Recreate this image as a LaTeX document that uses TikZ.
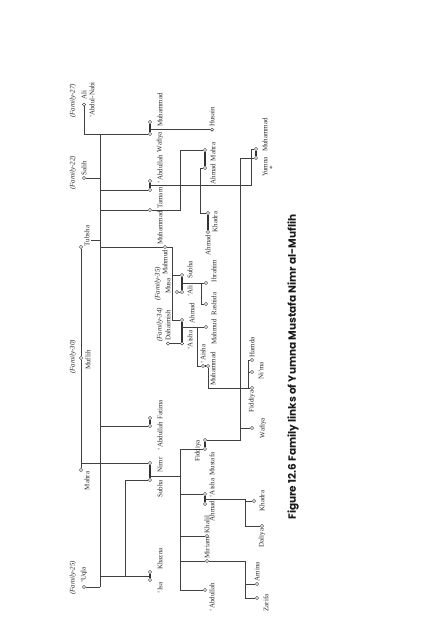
\documentclass[tikz,border=0pt]{standalone}
\usepackage{fontspec}
\setmainfont{Liberation Serif}
\newfontfamily\capfont{Poppins}
\pgfdeclarelayer{bg}
\pgfsetlayers{bg,main}
\begin{document}
\begin{tikzpicture}[x=1pt,y=-1pt,
  nm/.style={rotate=90, font=\fontsize{7}{8}\selectfont, inner sep=0pt, text=black!85},
  fam/.style={rotate=90, font=\fontsize{7}{8}\selectfont\itshape, inner sep=0pt, text=black!85},
  p/.style={circle, draw=black!85, fill=white, line width=0.45pt, minimum size=3.2pt, inner sep=0pt},
  ln/.style={draw=black!75, line width=0.5pt},
  mar/.style={draw=black!80, line width=1.1pt}]
\path[use as bounding box] (0,0) rectangle (427,640);
% ---------- generation 0
\node[fam] (f27) at (73,101) {(Family-27)};
\node[nm] (nAli) at (84,95) {Ali};
\node[p] (cAli) at (84,104.5) {};
\node[nm] (nAbN) at (92,100) {`Abdul-Nabi};
\node[fam] (f22) at (73,173) {(Family-22)};
\node[nm] (nSal) at (84,168) {Salih};
\node[p] (cSal) at (84,178) {};
\node[p] (cTub) at (81,247) {};
\node[nm] (nTub) at (87,236) {Tubsha};
\node[fam] (f30) at (73,357) {(Family-30)};
\node[p] (cMuf) at (81,358) {};
\node[nm] (nMuf) at (88,360) {Muflih};
\node[p] (cMah0) at (81,470) {};
\node[nm] (nMah0) at (87,481) {Mahra};
\node[fam] (f25) at (73,578) {(Family-25)};
\node[nm] (nUq) at (84,575) {`Uqla};
\node[p] (cUq) at (84,587) {};
% ---------- generation 1
\node[p] (cMuh1) at (150,122) {};
\node[nm] (nMuh1) at (160,110) {Muhammad};
\node[p] (cWaf) at (150,134) {};
\node[nm] (nWaf) at (160,142) {Wafiya};
\node[p] (cAbd1) at (150,181) {};
\node[nm] (nAbd1) at (160,169) {`Abdullah};
\node[p] (cTam) at (150,190) {};
\node[nm] (nTam) at (160,198) {Tamam};
\node[p] (cMuh2) at (150,210) {};
\node[nm] (nMuh2) at (160,228) {Muhammad};
\node[p] (cMahm) at (165,247) {};
\node[nm, anchor=east] (nMahm) at (165,249.5) {Mahmud};
\node[fam] (f35) at (158,284) {(Family-35)};
\node[nm] (nMusa) at (168,286) {Musa};
\node[p] (cMusa) at (177,292) {};
\node[fam] (f34) at (160,325) {(Family-34)};
\node[nm] (nDah) at (168,325) {Dahaimish};
\node[p] (cDah) at (168,343.5) {};
\node[p] (cFat) at (150,418) {};
\node[nm] (nFat) at (160,410) {Fatima};
\node[p] (cAbd1b) at (150,426) {};
\node[nm] (nAbd1b) at (160,436) {`Abdullah};
\node[p] (cNimr) at (150,463) {};
\node[nm] (nNimr) at (160,465) {Nimr};
\node[p] (cSub) at (150,480) {};
\node[nm] (nSub) at (160,489) {Subha};
\node[p] (cKhaz) at (150,572) {};
\node[nm] (nKhaz) at (160,559) {Khazna};
\node[p] (cIsa) at (150,580) {};
\node[nm] (nIsa) at (160,588) {`Isa};
% ---------- generation 2
\node[p] (cHus) at (212,129.7) {};
\node[nm, anchor=west] (nHus) at (212,127) {Husain};
\node[p] (cMah2) at (205,150) {};
\node[nm] (nMah2) at (213,152) {Mahra};
\node[p] (cAhm3) at (205,168) {};
\node[nm] (nAhm3) at (213,174) {Ahmad};
\node[p] (cKhad2) at (208,213) {};
\node[nm] (nKhad2) at (215,222) {Khadra};
\node[p] (cAhm4) at (208,232) {};
\node[nm, anchor=east] (nAhm4) at (208,234.5) {Ahmad};
\node[p] (cSub2) at (182,275) {};
\node[nm] (nSub2) at (190,270) {Subha};
\node[p] (cAli2) at (182,292) {};
\node[nm] (nAli2) at (190,291) {`Ali};
\node[p] (cAhm5) at (182,320) {};
\node[nm] (nAhm5) at (192,313) {Ahmad};
\node[p] (cAis5) at (182,343.5) {};
\node[nm] (nAis5) at (190,340) {`Aisha};
\node[p] (cIbr) at (206,283) {};
\node[nm] (nIbr) at (214,271) {Ibrahim};
\node[p] (cRash) at (206,304) {};
\node[nm] (nRash) at (214,304) {Rashida};
\node[p] (cMahm3) at (206,327) {};
\node[nm] (nMahm3) at (214,332) {Mahmud};
\node[p] (cAis6) at (203,366) {};
\node[nm, anchor=west] (nAis6) at (203,363.5) {`Aisha};
\node[p] (cMuh6) at (208,366) {};
\node[nm] (nMuh6) at (213,369) {Muhammad};
\node[p] (cFid2) at (205,440) {};
\node[nm] (nFid2) at (198,451) {Fiddiya};
\node[p] (cMust) at (205,449) {};
\node[nm] (nMust) at (212,464) {Mustafa};
\node[p] (cAis2) at (205,494) {};
\node[nm] (nAis2) at (212,488) {`Aisha};
\node[p] (cAhm2) at (205,504) {};
\node[nm] (nAhm2) at (212,511) {Ahmad};
\node[p] (cKhal) at (207,536) {};
\node[nm, anchor=west] (nKhal) at (207,533.5) {Khalil};
\node[p] (cMir) at (207,561) {};
\node[nm, anchor=west] (nMir) at (207,558.5) {Miriam};
\node[p] (cAbd2) at (205,590) {};
\node[nm] (nAbd2) at (212,597) {`Abdullah};
% ---------- generation 3
\node[p] (cMuh4) at (256,149) {};
\node[nm] (nMuh4) at (265,135) {Muhammad};
\node[p] (cYum) at (256,158) {};
\node[nm] (nYum) at (265,167) {Yumna};
\node[nm] (star) at (272,168) {*};
\node[p] (cHam) at (252,360) {};
\node[nm, anchor=west] (nHam) at (252,357.5) {Hamda};
\node[p] (cNim) at (252,372) {};
\node[nm] (nNim) at (261,371) {Ni'ma};
\node[p] (cFid3) at (252,388) {};
\node[nm, anchor=east] (nFid3) at (252,390.5) {Fiddiya};
\node[p] (cWaf3) at (252,428) {};
\node[nm] (nWaf3) at (263,428) {Wafiya};
\node[p] (cKhad3) at (254,501) {};
\node[nm] (nKhad3) at (262,501) {Khadra};
\node[p] (cDal) at (262,526) {};
\node[nm, anchor=east] (nDal) at (262,528.5) {Daliya};
\node[p] (cAmi) at (257,584) {};
\node[nm, anchor=west] (nAmi) at (257,581.5) {Amina};
\node[p] (cZar) at (257,598) {};
\node[nm] (nZar) at (266,603) {Zarifa};
% ---------- caption
\node[rotate=90, inner sep=0pt, text=black!90, font=\capfont\bfseries\fontsize{10.5}{12}\selectfont] (cap) at (293,367) {Figure 12.6 Family links of Yumna Mustafa Nimr al-Muflih};
% ---------- connectors
\begin{pgfonlayer}{bg}
\coordinate (v2t) at (100,134);
\coordinate (v2b) at (100,587);
\coordinate (v1c) at (81,463);
\coordinate (tubR) at (91,240);
\coordinate (mwM) at (150,129.7);
\coordinate (atM) at (150,185.3);
\coordinate (mu251a) at (251,185.3);
\coordinate (mu251b) at (251,149);
\coordinate (b180t) at (180,150);
\coordinate (a200) at (200,168);
\coordinate (m172t) at (172,247);
\coordinate (m172b) at (172,320);
\coordinate (asM) at (182,283);
\coordinate (b201b) at (201,304);
\coordinate (aaM) at (182,327);
\coordinate (b197t) at (197,327);
\coordinate (b197b) at (197,366);
\coordinate (b248t) at (248,360);
\coordinate (b248b) at (248,388);
\coordinate (y240t) at (240,158);
\coordinate (y240b) at (240,440);
\coordinate (nsM) at (150,476);
\coordinate (b180s) at (180,449);
\coordinate (b180e) at (180,590);
\coordinate (aa2M) at (205,499);
\coordinate (k245t) at (245,499);
\coordinate (k245b) at (245,526);
\coordinate (z245t) at (245,561);
\coordinate (z245b) at (245,598);
\coordinate (kiM) at (150,576);
\coordinate (k125) at (125,576);
% Muflih and his wives
\draw[ln] (cTub) -- (cMuf);
\draw[ln] (cMuf) -- (cMah0);
\draw[ln] (v1c) -- (cNimr);
% long descent bar
\draw[ln] (v2t) -- (v2b);
\draw[ln] (cAli) |- (cWaf);
\draw[ln] (cSal) -- (cSal -| v2t);
\draw[ln] (tubR) -- (tubR -| v2t);
\draw[ln] (cTam) -- (cTam -| v2t);
\draw[ln] (cMuh2) -- (cMuh2 -| v2t);
\draw[ln] (cMahm) -- (cMahm -| v2t);
\draw[ln] (cAbd1b) -- (cAbd1b -| v2t);
\draw[ln] (kiM -| v2t) -- (kiM);
\draw[ln] (cUq) -- (cUq -| v2t);
\draw[ln] (cSub) -| (k125);
% marriages
\draw[mar] (cMuh1) -- (cWaf);
\draw[mar] (cAbd1) -- (cTam);
\draw[mar] (cFat) -- (cAbd1b);
\draw[mar] (cNimr) -- (cSub);
\draw[mar] (cKhaz) -- (cIsa);
\draw[mar] (cMah2) -- (cAhm3);
\draw[mar] (cKhad2) -- (cAhm4);
\draw[mar] (cSub2) -- (cAli2);
\draw[mar] (cAhm5) -- (cAis5);
\draw[mar] (cAis6) -- (cMuh6);
\draw[mar] (cFid2) -- (cMust);
\draw[mar] (cAis2) -- (cAhm2);
\draw[mar] (cMuh4) -- (cYum);
% descent lines
\draw[ln] (mwM) -- (cHus);
\draw[ln] (atM) -- (mu251a) -- (mu251b) -- (cMuh4);
\draw[ln] (cMuh2) -| (b180t) -- (cMah2);
\draw[ln] (cAhm3) -- (a200) |- (cKhad2);
\draw[ln] (cMahm) -- (m172t) -- (m172b) -- (cAhm5);
\draw[ln] (cSub2 -| m172t) -- (cSub2);
\draw[ln] (cMusa) -- (cAli2);
\draw[ln] (asM) -- (cIbr);
\draw[ln] (cIbr -| b201b) -- (b201b) -- (cRash);
\draw[ln] (cDah) -- (cAis5);
\draw[ln] (aaM) -- (cMahm3);
\draw[ln] (b197t) -- (b197b) -- (cAis6);
\draw[ln] (cMuh6) |- (b248b);
\draw[ln] (b248t) -- (b248b) -- (cFid3);
\draw[ln] (b248t) -- (cHam);
\draw[ln] (cNim -| b248t) -- (cNim);
\draw[ln] (cYum) -- (y240t) -- (y240b) -- (cFid2);
\draw[ln] (cWaf3 -| y240t) -- (cWaf3);
\draw[ln] (nsM) -- (nsM -| b180s);
\draw[ln] (b180s) -- (b180e);
\draw[ln] (b180s) -- (cMust);
\draw[ln] (cAis2 -| b180s) -- (cAis2);
\draw[ln] (cKhal -| b180s) -- (cKhal);
\draw[ln] (cMir -| b180s) -- (cMir);
\draw[ln] (b180e) -- (cAbd2);
\draw[ln] (aa2M) -- (k245t) -- (k245b) -- (cDal);
\draw[ln] (cKhad3 -| k245t) -- (cKhad3);
\draw[ln] (cMir) -- (z245t) -- (z245b) -- (cZar);
\draw[ln] (cAmi -| z245t) -- (cAmi);
\end{pgfonlayer}
\end{tikzpicture}
\end{document}
